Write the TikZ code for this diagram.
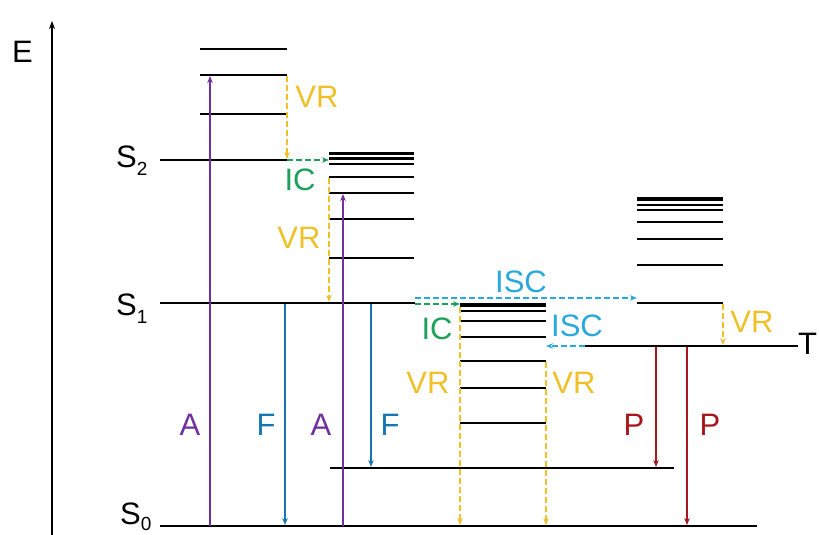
\documentclass[tikz,border=0pt]{standalone}
\usepackage{fontspec}
\setmainfont{Liberation Sans}
\usetikzlibrary{arrows.meta}
\definecolor{cA}{RGB}{112,48,160}
\definecolor{cF}{RGB}{22,118,180}
\definecolor{cISC}{RGB}{40,168,220}
\definecolor{cIC}{RGB}{30,160,90}
\definecolor{cVR}{RGB}{240,192,40}
\definecolor{cP}{RGB}{168,22,28}
\tikzset{
  lvl/.style={line width=2pt},
  lab/.style={font=\fontsize{31}{35}\selectfont, inner sep=0pt},
  slab/.style={font=\fontsize{31}{35}\selectfont, inner sep=0pt, anchor=base west},
  tr/.style={line width=1.4pt, -{Stealth[length=7pt,width=5.5pt]}},
  dsh/.style={line width=1.6pt, dash pattern=on 6pt off 3pt, -{Stealth[length=7pt,width=5.5pt]}},
}
\newcommand{\mysub}[2][-8pt]{\raisebox{#1}{\fontsize{19}{20}\selectfont #2}}
\begin{document}
\begin{tikzpicture}[x=1pt,y=-1pt]
\useasboundingbox (0,0) rectangle (819,535);
% energy axis
\coordinate (e0) at (52,535);
\coordinate (e1) at (52,21);
\draw[line width=1.4pt,-{Stealth[length=8pt,width=6pt]}] (e0) -- (e1);
\node[slab] (E) at (12,63) {E};
% state labels
\node[slab] (s2) at (116,167) {S\mysub{2}};
\node[slab] (s1) at (116,315) {S\mysub{1}};
\node[slab] (s0) at (120,524) {S\mysub[-6pt]{0}};
\node[slab] (t1) at (798,354) {T};
% main levels
\draw[line width=2.6pt] (160,526) -- (757,526);
\draw[lvl] (160,303) -- (415,303);
\draw[line width=1.6pt] (160,160) -- (287,160);
\draw[line width=2.4pt] (330,468) -- (674,468);
\draw[lvl] (585,346) -- (798,346);
% column 1 (upper S2 vibrational)
\draw[lvl] (200,49) -- (287,49);
\draw[line width=2.6pt] (200,75) -- (287,75);
\draw[line width=1.6pt] (200,114) -- (287,114);
% column 2
\draw[line width=3.6pt] (329,153.5) -- (414,153.5);
\draw[line width=2.6pt] (329,158.5) -- (414,158.5);
\draw[lvl] (329,164) -- (414,164);
\draw[lvl] (329,177) -- (414,177);
\draw[lvl] (329,193) -- (414,193);
\draw[lvl] (329,219) -- (414,219);
\draw[lvl] (329,258) -- (414,258);
% column 3
\draw[line width=4pt] (460,305) -- (546,305);
\draw[lvl] (460,311) -- (546,311);
\draw[lvl] (460,321) -- (546,321);
\draw[lvl] (460,337) -- (546,337);
\draw[lvl] (460,361) -- (546,361);
\draw[lvl] (460,388) -- (546,388);
\draw[line width=1.6pt] (460,423) -- (546,423);
% column 4 (triplet)
\draw[line width=3.6pt] (637,199) -- (723,199);
\draw[lvl] (637,204.5) -- (723,204.5);
\draw[line width=1.6pt] (637,210) -- (723,210);
\draw[lvl] (637,222) -- (723,222);
\draw[lvl] (637,239) -- (723,239);
\draw[lvl] (637,265) -- (723,265);
\draw[lvl] (637,303) -- (723,303);
% arrow end points
\coordinate (a1s) at (210,526); \coordinate (a1e) at (210,76);
\coordinate (a2s) at (343,526); \coordinate (a2e) at (343,194);
\coordinate (f1s) at (285,304); \coordinate (f1e) at (285,525);
\coordinate (f2s) at (371,304); \coordinate (f2e) at (371,467);
\coordinate (p1s) at (656,347); \coordinate (p1e) at (656,467);
\coordinate (p2s) at (687,347); \coordinate (p2e) at (687,525);
\coordinate (v1s) at (287,76);  \coordinate (v1e) at (287,159);
\coordinate (i1s) at (287,160); \coordinate (i1e) at (329,160);
\coordinate (v2s) at (329,178); \coordinate (v2e) at (329,302);
\coordinate (x1s) at (415,298); \coordinate (x1e) at (637,298);
\coordinate (i2s) at (415,304); \coordinate (i2e) at (460,304);
\coordinate (x2s) at (585,346); \coordinate (x2e) at (546,346);
\coordinate (v3s) at (723,304); \coordinate (v3e) at (723,345);
\coordinate (v4s) at (460,307); \coordinate (v4e) at (460,525);
\coordinate (v5s) at (546,362); \coordinate (v5e) at (546,525);
% absorption
\draw[tr,cA] (a1s) -- (a1e);
\draw[tr,cA] (a2s) -- (a2e);
% fluorescence
\draw[tr,cF] (f1s) -- (f1e);
\draw[tr,cF] (f2s) -- (f2e);
% phosphorescence
\draw[tr,cP] (p1s) -- (p1e);
\draw[tr,cP] (p2s) -- (p2e);
% vibrational relaxation
\draw[dsh,cVR] (v1s) -- (v1e);
\draw[dsh,cVR] (v2s) -- (v2e);
\draw[dsh,cVR] (v3s) -- (v3e);
\draw[dsh,cVR] (v4s) -- (v4e);
\draw[dsh,cVR] (v5s) -- (v5e);
% internal conversion
\draw[dsh,cIC] (i1s) -- (i1e);
\draw[dsh,cIC] (i2s) -- (i2e);
% intersystem crossing
\draw[dsh,cISC] (x1s) -- (x1e);
\draw[dsh,cISC] (x2s) -- (x2e);
% labels
\node[lab,cA] (la1) at (190,425) {A};
\node[lab,cF] (lf1) at (266,425) {F};
\node[lab,cA] (la2) at (321,425) {A};
\node[lab,cF] (lf2) at (390,425) {F};
\node[lab,cP] (lp1) at (634,425) {P};
\node[lab,cP] (lp2) at (710,425) {P};
\node[lab,cVR] (lv1) at (317,97) {VR};
\node[lab,cIC] (li1) at (300,180) {IC};
\node[lab,cVR] (lv2) at (299,238) {VR};
\node[lab,cISC] (lx1) at (521,282) {ISC};
\node[lab,cIC] (li2) at (437,329) {IC};
\node[lab,cISC] (lx2) at (577,326) {ISC};
\node[lab,cVR] (lv3) at (752,322) {VR};
\node[lab,cVR] (lv4) at (428,383) {VR};
\node[lab,cVR] (lv5) at (574,383) {VR};
\end{tikzpicture}
\end{document}
